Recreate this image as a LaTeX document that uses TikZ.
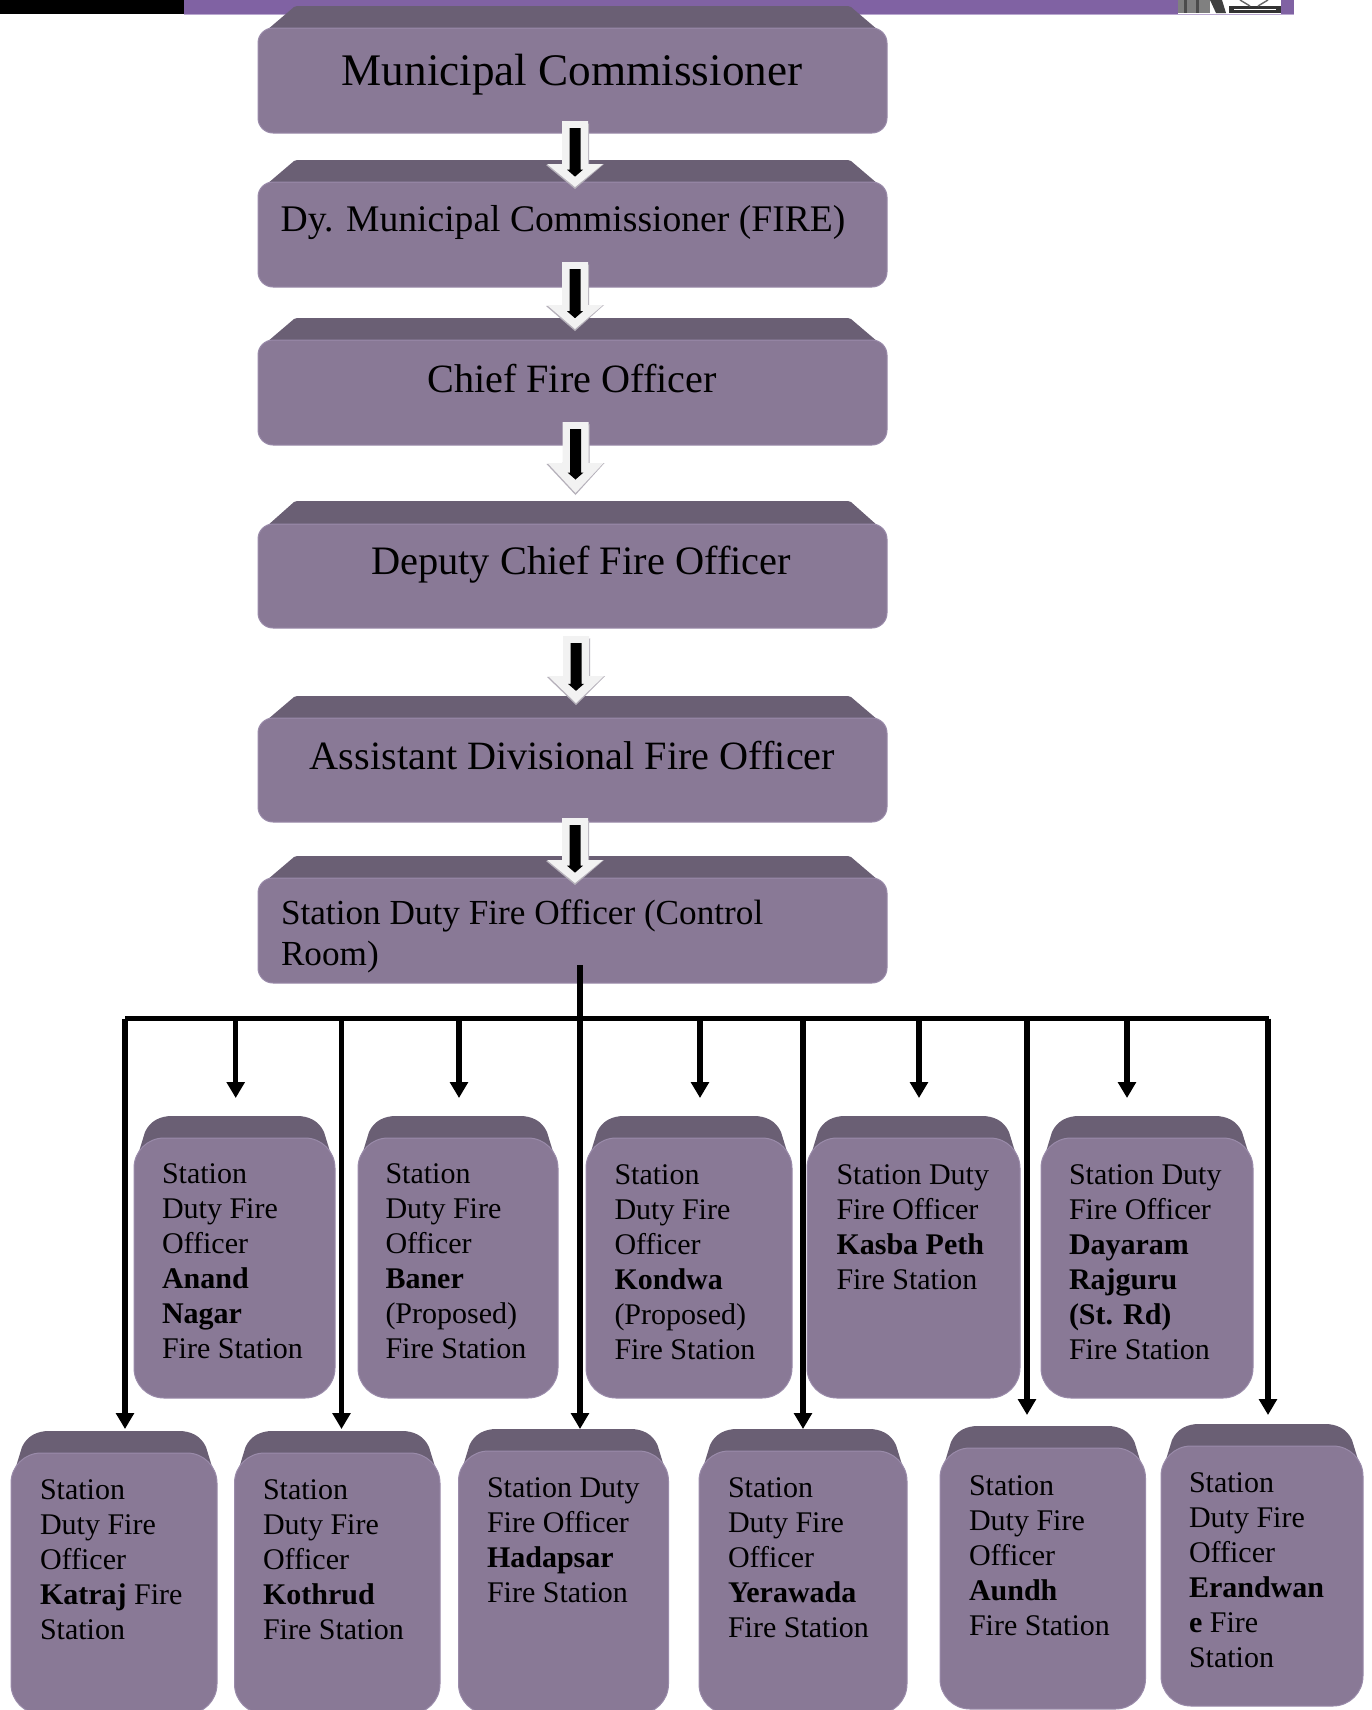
\documentclass[tikz,border=0pt]{standalone}
\usepackage{fontspec}
\setmainfont{Liberation Serif}
\usetikzlibrary{arrows.meta,calc}
\definecolor{faceC}{HTML}{897996}
\definecolor{topC}{HTML}{6A5F74}
\definecolor{edgeC}{HTML}{9A8BAA}
\definecolor{bandC}{HTML}{8062A3}
\definecolor{bandL}{HTML}{B9A7CF}
\definecolor{arrowW}{HTML}{F2F2F2}
\definecolor{arrowS}{HTML}{B5B0BA}
\pgfdeclarehorizontalshading{bevelside}{100bp}{
 color(0bp)=(edgeC); color(6bp)=(faceC); color(16bp)=(topC); color(84bp)=(topC); color(94bp)=(faceC); color(100bp)=(edgeC)}
\tikzset{
 x=0.5pt,y=-0.5pt,
 frontbox/.style={rectangle,fill=faceC,draw=edgeC,line width=0.5pt,inner sep=0pt,outer sep=0pt},
 bigtext/.style={inner sep=0pt,outer sep=0pt,anchor=base,text=black},
 smalltext/.style={inner sep=0pt,outer sep=0pt,anchor=north west,align=left,text=black,font=\fontsize{15}{17.5}\selectfont},
 bus/.style={line width=2.6pt,black},
 longarrow/.style={line width=2.7pt,black,-{Triangle[length=8pt,width=8.8pt]}},
 shortarrow/.style={line width=2.6pt,black,-{Triangle[length=8pt,width=8.8pt]}},
}
% name, x1, x2, ytop, yfront, ybottom
\newcommand{\bigbox}[6]{%
 \fill[topC] (#2,#5+18) -- (#2+9,#5+2) -- (#2+36,#4+1) -- (#2+39,#4) -- (#3-39,#4) -- (#3-36,#4+1) -- (#3-9,#5+2) -- (#3,#5+18) -- cycle;
 \pgfmathsetmacro{\bw}{(#3-#2)*0.5}\pgfmathsetmacro{\bh}{(#6-#5)*0.5}
 \node[frontbox,rounded corners=7.5pt,minimum width=\bw pt,minimum height=\bh pt] (#1) at ({(#2+#3)/2},{(#5+#6)/2}) {};
}
\newcommand{\smallbox}[6]{%
 \shade[shading=bevelside] (#2,#5+30) -- (#2+11,#4+16) .. controls (#2+16,#4+5) and (#2+26,#4) .. (#2+38,#4) -- (#3-38,#4) .. controls (#3-26,#4) and (#3-16,#4+5) .. (#3-11,#4+16) -- (#3,#5+30) -- cycle;
 \pgfmathsetmacro{\bw}{(#3-#2)*0.5}\pgfmathsetmacro{\bh}{(#6-#5)*0.5}
 \node[frontbox,rounded corners=15pt,minimum width=\bw pt,minimum height=\bh pt] (#1) at ({(#2+#3)/2},{(#5+#6)/2}) {};
}
% name, x, ytop, ytip, head depth
\newcommand{\blockarrow}[5]{%
 \coordinate (#1a) at (#2,#3);\coordinate (#1b) at (#2,#4);
 \fill[arrowS] (#2+14,#3+2) -- (#2+14,#4-#5) -- (#2+29,#4-#5) -- (#2,#4+2) -- (#2-29,#4-#5+1) -- (#2-13,#4-#5) -- cycle;
 \fill[arrowW] (#2-13,#3) -- (#2+13,#3) -- (#2+13,#4-#5) -- (#2+28,#4-#5) -- (#1b) -- (#2-28,#4-#5) -- (#2-13,#4-#5) -- cycle;
 \fill[black] (#2-5.5,#3+7) -- (#2+5.5,#3+7) -- (#2+5.5,#4-0.45*#5-7) -- (#2+8,#4-0.45*#5-7) -- (#2,#4-0.45*#5) -- (#2-8,#4-0.45*#5-7) -- (#2-5.5,#4-0.45*#5-7) -- cycle;
}
\begin{document}
\begin{tikzpicture}
\useasboundingbox (0,0) rectangle (1372,1710);
\clip (0,0) rectangle (1372,1710);
\fill[white] (0,0) rectangle (1372,1710);
% top band
\fill[black] (0,0) rectangle (184,14);
\fill[bandC] (184,0) rectangle (1294,14);
\fill[bandL] (184,14) rectangle (1294,15);
% logo fragment
\fill[white] (1178,0) rectangle (1281,14);
\fill[gray] (1178,0) rectangle (1210,13);
\fill[black!70] (1184,0) rectangle (1187,13);
\fill[black!70] (1196,0) rectangle (1199,13);
\fill[black!75] (1210,0) -- (1222,0) -- (1226,13) -- (1216,13) -- cycle;
\fill[black!80] (1229,6) rectangle (1281,13);
\draw[white,line width=0.5pt] (1234,9.5) -- (1276,9.5);
\draw[black!60,line width=0.7pt] (1240,0) -- (1250,6);
\draw[black!60,line width=0.7pt] (1268,0) -- (1258,6);
% large boxes
\bigbox{mc}{258}{887}{6}{28}{133}
\bigbox{dmc}{258}{887}{160}{182}{287}
\bigbox{cfo}{258}{887}{318}{340}{445}
\bigbox{dcfo}{258}{887}{501}{524}{628}
\bigbox{adfo}{258}{887}{696}{718}{822}
\bigbox{sdfo}{258}{887}{856}{878}{983}
\node[bigtext,font=\fontsize{22.6}{26}\selectfont] (mct) at (572,85) {Municipal Commissioner};
\node[bigtext,font=\fontsize{18.8}{22}\selectfont] (dmct) at (563,231) {Dy. Municipal Commissioner (FIRE)};
\node[bigtext,font=\fontsize{20.1}{24}\selectfont] (cfot) at (572,392) {Chief Fire Officer};
\node[bigtext,font=\fontsize{20.2}{24}\selectfont] (dcfot) at (581,574) {Deputy Chief Fire Officer};
\node[bigtext,font=\fontsize{20.1}{24}\selectfont] (adfot) at (572.5,769) {Assistant Divisional Fire Officer};
\node[smalltext,font=\fontsize{17.6}{20.5}\selectfont] (sdfot) at (281,900) {Station Duty Fire Officer (Control\\Room)};
% upper row
\smallbox{anand}{134}{335}{1116}{1138}{1398}
\smallbox{baner}{358}{558}{1116}{1138}{1398}
\smallbox{kondwa}{586}{792}{1116}{1138}{1398}
\smallbox{kasba}{807}{1020}{1116}{1138}{1398}
\smallbox{dayaram}{1041}{1253}{1116}{1138}{1398}
\node[smalltext] (anandt) at (162,1164) {Station\\Duty Fire\\Officer\\\textbf{Anand}\\\textbf{Nagar}\\Fire Station};
\node[smalltext] (banert) at (385.5,1164) {Station\\Duty Fire\\Officer\\\textbf{Baner}\\(Proposed)\\Fire Station};
\node[smalltext] (kondwat) at (614.5,1165) {Station\\Duty Fire\\Officer\\\textbf{Kondwa}\\(Proposed)\\Fire Station};
\node[smalltext] (kasbat) at (836.5,1165) {Station Duty\\Fire Officer\\\textbf{Kasba Peth}\\Fire Station};
\node[smalltext] (dayaramt) at (1069,1165) {Station Duty\\Fire Officer\\\textbf{Dayaram}\\\textbf{Rajguru}\\\textbf{(St. Rd)}\\Fire Station};
% lower row
\smallbox{katraj}{11}{217}{1431}{1453}{1714}
\smallbox{kothrud}{234.5}{440}{1431}{1453}{1714}
\smallbox{hadapsar}{458.5}{668.5}{1429}{1451}{1714}
\smallbox{yerawada}{699}{907}{1429}{1451}{1714}
\smallbox{aundh}{940}{1145.5}{1426}{1448}{1709}
\smallbox{erandwane}{1161}{1363}{1424}{1446}{1706}
\node[smalltext] (katrajt) at (40,1480) {Station\\Duty Fire\\Officer\\\textbf{Katraj} Fire\\Station};
\node[smalltext] (kothrudt) at (263,1480) {Station\\Duty Fire\\Officer\\\textbf{Kothrud}\\Fire Station};
\node[smalltext] (hadapsart) at (487,1478) {Station Duty\\Fire Officer\\\textbf{Hadapsar}\\Fire Station};
\node[smalltext] (yerawadat) at (728,1478) {Station\\Duty Fire\\Officer\\\textbf{Yerawada}\\Fire Station};
\node[smalltext] (aundht) at (969,1476) {Station\\Duty Fire\\Officer\\\textbf{Aundh}\\Fire Station};
\node[smalltext] (erandwanet) at (1189,1473) {Station\\Duty Fire\\Officer\\\textbf{Erandwan}\\\textbf{e} Fire\\Station};
% block arrows
\blockarrow{ba}{575}{121}{187}{23}
\blockarrow{bb}{575}{262}{329}{24}
\blockarrow{bc}{575.5}{422}{493}{30}
\blockarrow{bd}{576}{636}{703}{27}
\blockarrow{be}{575}{818}{883}{23}
% connector tree
\coordinate (stemtop) at (580,965);
\coordinate (busL) at (125,1018.5);
\coordinate (busR) at (1269,1018.5);
\coordinate (tKatraj) at (125,1429);
\coordinate (tKothrud) at (341.5,1429);
\coordinate (tHadapsar) at (580,1429);
\coordinate (tYerawada) at (803,1429);
\coordinate (tAundh) at (1027,1415);
\coordinate (tErandwane) at (1268,1415);
\coordinate (tAnand) at (235.7,1098);
\coordinate (tBaner) at (459,1098);
\coordinate (tKondwa) at (700,1098);
\coordinate (tKasba) at (919,1098);
\coordinate (tDayaram) at (1127,1098);
\draw[bus] (busL) -- (busR);
\draw[longarrow] (stemtop) -- (tHadapsar);
\foreach \t in {tKatraj,tKothrud,tYerawada,tAundh,tErandwane}{
  \draw[longarrow] (\t |- busL) -- (\t);
}
\foreach \t in {tAnand,tBaner,tKondwa,tKasba,tDayaram}{
  \draw[shortarrow] (\t |- busL) -- (\t);
}
\end{tikzpicture}
\end{document}
